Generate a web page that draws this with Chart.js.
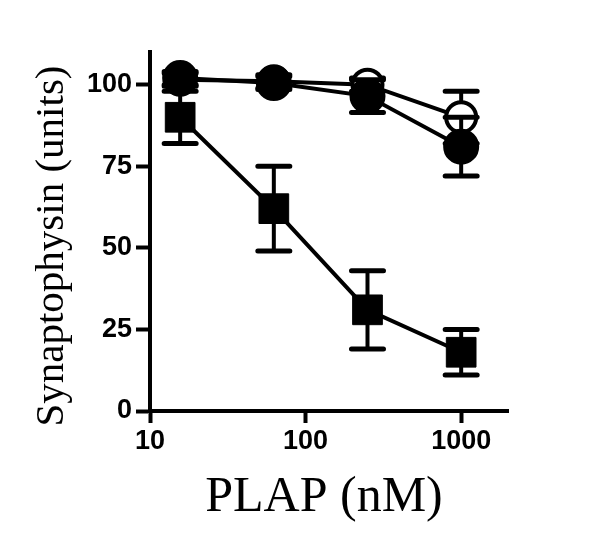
<!DOCTYPE html>
<html>
<head>
<meta charset="utf-8">
<script src="https://cdn.jsdelivr.net/npm/chart.js@4"></script>
<style>
  html, body { margin: 0; padding: 0; background: #fff; }
  #wrap { width: 600px; height: 552px; }
</style>
</head>
<body>
<div id="wrap"><canvas id="c" width="600" height="552"></canvas></div>
<script>
const concentrations = [15.625, 62.5, 250, 1000];
const filledMean = [102, 100.5, 96.5, 81];
const filledErr = [2, 2, 5, 9];
const openMean = [101.5, 101, 100, 90];
const openErr = [2, 2, 2, 8];
const squareMean = [90, 62, 31, 18];
const squareErr = [8, 13, 12, 7];
const xTicks = [10, 100, 1000];
const yTicks = [0, 25, 50, 75, 100];
const xTitle = 'PLAP (nM)';
const yTitle = 'Synaptophysin (units)';

function pts(means) { return concentrations.map((x, i) => ({ x: x, y: means[i] })); }

const errorBars = {
  id: 'errorBars',
  beforeDatasetDraw(chart, args) {
    const ds = chart.data.datasets[args.index];
    if (!ds.errors) return;
    const ctx = chart.ctx, xs = chart.scales.x, ys = chart.scales.y;
    ctx.save();
    ctx.strokeStyle = '#000';
    ds.data.forEach((p, i) => {
      const e = ds.errors[i];
      const px = xs.getPixelForValue(p.x);
      const yt = ys.getPixelForValue(p.y + e);
      const yb = ys.getPixelForValue(p.y - e);
      ctx.lineWidth = 4; ctx.lineCap = 'butt';
      ctx.beginPath(); ctx.moveTo(px, yt); ctx.lineTo(px, yb); ctx.stroke();
      ctx.lineWidth = 5; ctx.lineCap = 'round';
      ctx.beginPath();
      ctx.moveTo(px - 16, yt); ctx.lineTo(px + 16, yt);
      ctx.moveTo(px - 16, yb); ctx.lineTo(px + 16, yb);
      ctx.stroke();
    });
    ctx.restore();
  }
};

const titles = {
  id: 'titles',
  afterDraw(chart) {
    const ctx = chart.ctx;
    ctx.save();
    ctx.fillStyle = '#000';
    ctx.textAlign = 'center';
    ctx.textBaseline = 'alphabetic';
    ctx.font = '50px "Liberation Serif"';
    ctx.fillText(xTitle, 324, 511);
    ctx.translate(63, 246);
    ctx.rotate(-Math.PI / 2);
    ctx.font = '41px "Liberation Serif"';
    ctx.fillText(yTitle, 0, 0);
    ctx.restore();
  }
};

new Chart(document.getElementById('c'), {
  type: 'line',
  data: {
    datasets: [
      {
        label: 'filled circles', data: pts(filledMean), errors: filledErr,
        borderColor: '#000', borderWidth: 4, backgroundColor: '#000',
        pointStyle: 'circle', pointRadius: 16, pointBorderWidth: 4,
        pointBackgroundColor: '#000', pointBorderColor: '#000', clip: false
      },
      {
        label: 'open circles', data: pts(openMean), errors: openErr,
        borderColor: '#000', borderWidth: 4, backgroundColor: '#fff',
        pointStyle: 'circle', pointRadius: 15, pointBorderWidth: 4,
        pointBackgroundColor: '#fff', pointBorderColor: '#000', clip: false
      },
      {
        label: 'squares', data: pts(squareMean), errors: squareErr,
        borderColor: '#000', borderWidth: 4, backgroundColor: '#000',
        pointStyle: 'rect', pointRadius: 21, pointBorderWidth: 1,
        pointBackgroundColor: '#000', pointBorderColor: '#000', clip: false
      }
    ]
  },
  options: {
    responsive: false,
    animation: false,
    events: [],
    layout: { padding: { left: 0, right: 92, top: 52, bottom: 0 } },
    plugins: { legend: { display: false }, tooltip: { enabled: false } },
    elements: { line: { tension: 0 } },
    scales: {
      x: {
        type: 'logarithmic', position: 'bottom', min: 10, max: 2000,
        afterFit(s) { s.height = 141; },
        afterBuildTicks(s) { s.ticks = xTicks.map(v => ({ value: v })); },
        grid: { drawOnChartArea: false, drawTicks: true, tickLength: 12, tickWidth: 4, tickColor: '#000' },
        border: { display: true, color: '#000', width: 4 },
        ticks: {
          color: '#000', padding: 2, maxRotation: 0, autoSkip: false,
          font: { family: '"Liberation Sans"', size: 27, weight: 'bold' },
          callback: v => String(v)
        }
      },
      y: {
        type: 'linear', position: 'left', min: 0, max: 110,
        afterFit(s) { s.width = 150; },
        afterBuildTicks(s) { s.ticks = yTicks.map(v => ({ value: v })); },
        grid: { drawOnChartArea: false, drawTicks: true, tickLength: 14, tickWidth: 4, tickColor: '#000' },
        border: { display: true, color: '#000', width: 4 },
        ticks: {
          color: '#000', padding: 4, autoSkip: false,
          font: { family: '"Liberation Sans"', size: 27, weight: 'bold' },
          callback: v => String(v)
        }
      }
    }
  },
  plugins: [errorBars, titles]
});
</script>
</body>
</html>
